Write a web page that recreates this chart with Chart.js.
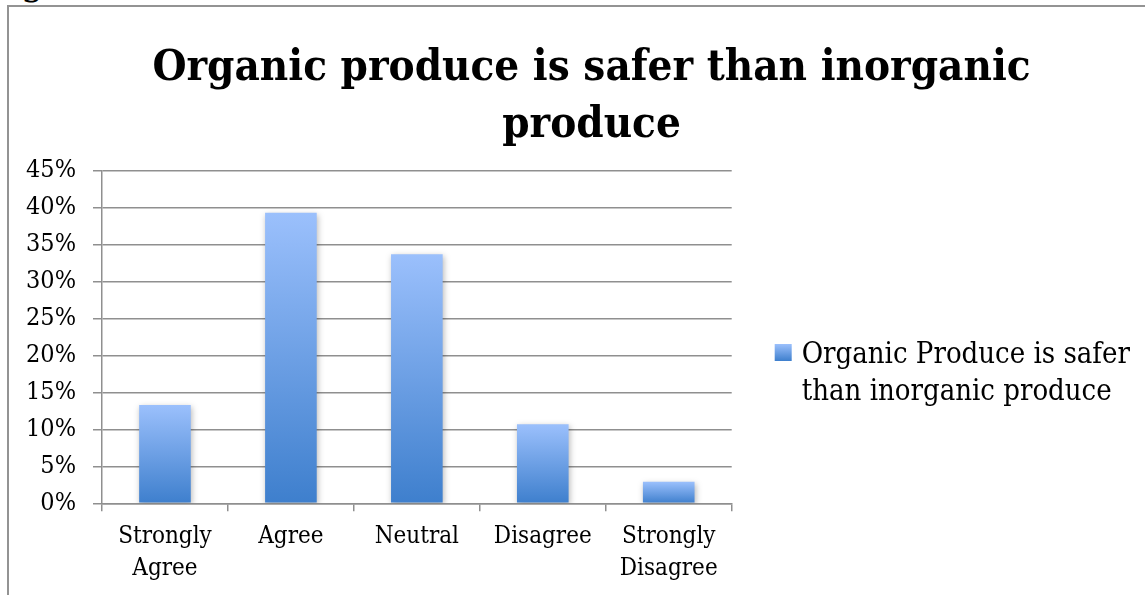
<!DOCTYPE html>
<html>
<head>
<meta charset="utf-8">
<script src="https://cdn.jsdelivr.net/npm/chart.js@4.4.1/dist/chart.umd.min.js"></script>
<style>
  html, body { margin: 0; padding: 0; background: #fff; overflow: hidden; }
  #wrap { position: relative; width: 1145px; height: 595px; overflow: hidden; }
  #frame { position: absolute; left: 7px; top: 5px; width: 1200px; height: 700px;
           border: 2px solid #939393; box-sizing: border-box; }
  #cut { position: absolute; left: 21px; top: -35px; font: 36px "DejaVu Serif"; line-height: 36px; }
  canvas { position: absolute; left: 0; top: 0; }
</style>
</head>
<body>
<div id="wrap">
  <div id="cut">g</div>
  <div id="frame"></div>
  <canvas id="chart" width="1145" height="595"></canvas>
</div>
<script>
// Survey answers, share of respondents (%)
const categories = [["Strongly", "Agree"], "Agree", "Neutral", "Disagree", ["Strongly", "Disagree"]];
const shareValues = [13.3, 39.3, 33.7, 10.7, 2.9];
const yTicks = [0, 5, 10, 15, 20, 25, 30, 35, 40, 45];
const titleLines = ["Organic produce is safer than inorganic", "produce"];
const legendLines = ["Organic Produce is safer", "than inorganic produce"];

const FONT = '"DejaVu Serif Condensed", "DejaVu Serif", serif';
const GRID = "#8f8f8f";
const TOP_BLUE = "#9bc0fc";
const BASE_BLUE = "#3e7fcd";

// each bar gets its own vertical gradient, light at the top
function barGradient(context) {
  const chart = context.chart;
  const y = chart.scales.y;
  if (!chart.chartArea || !y) return BASE_BLUE;
  const top = y.getPixelForValue(context.raw);
  const base = y.getPixelForValue(0);
  const g = chart.ctx.createLinearGradient(0, top, 0, base);
  g.addColorStop(0, TOP_BLUE);
  g.addColorStop(1, BASE_BLUE);
  return g;
}

const barShadow = {
  id: "barShadow",
  beforeDatasetsDraw(chart) {
    const ctx = chart.ctx;
    ctx.save();
    ctx.shadowColor = "rgba(0,0,0,0.28)";
    ctx.shadowBlur = 6;
    ctx.shadowOffsetX = 1;
    ctx.shadowOffsetY = 2;
  },
  afterDatasetsDraw(chart) {
    chart.ctx.restore();
  }
};

// big bold heading, centred on the framed area rather than the canvas
const heading = {
  id: "heading",
  afterDraw(chart) {
    const ctx = chart.ctx;
    ctx.save();
    ctx.fillStyle = "#000";
    ctx.font = "bold 43.5px " + FONT;
    ctx.textAlign = "center";
    ctx.textBaseline = "middle";
    titleLines.forEach((line, i) => {
      ctx.fillText(line, 591.5, 68.5 + i * 57);
    });
    ctx.restore();
  }
};

// two-line legend to the right of the plot
const sideLegend = {
  id: "sideLegend",
  afterDraw(chart) {
    const { ctx, chartArea } = chart;
    const boxX = chartArea.right + 43;
    const boxY = 344;
    const size = 17;
    ctx.save();
    const g = ctx.createLinearGradient(0, boxY, 0, boxY + size);
    g.addColorStop(0, TOP_BLUE);
    g.addColorStop(1, BASE_BLUE);
    ctx.fillStyle = g;
    ctx.fillRect(boxX, boxY, size, size);
    ctx.fillStyle = "#000";
    ctx.font = "29px " + FONT;
    ctx.textBaseline = "alphabetic";
    ctx.textAlign = "left";
    legendLines.forEach((line, i) => {
      ctx.fillText(line, boxX + 27, 363 + i * 37);
    });
    ctx.restore();
  }
};

new Chart(document.getElementById("chart").getContext("2d"), {
  type: "bar",
  data: {
    labels: categories,
    datasets: [{
      label: legendLines.join(" "),
      data: shareValues,
      backgroundColor: barGradient,
      borderWidth: 0,
      categoryPercentage: 1,
      barPercentage: 0.41
    }]
  },
  options: {
    responsive: false,
    animation: false,
    devicePixelRatio: 1,
    layout: { padding: { left: 0, right: 413.3, top: 170.7, bottom: 0 } },
    scales: {
      y: {
        min: 0,
        max: 45,
        afterBuildTicks: scale => { scale.ticks = yTicks.map(v => ({ value: v })); },
        afterFit: scale => { scale.width = 102; },
        grid: { color: GRID, lineWidth: 1.5, tickLength: 9 },
        border: { display: true, color: GRID, width: 1.5 },
        ticks: {
          padding: 17,
          color: "#000",
          font: { size: 25, family: FONT },
          callback: v => v + "%"
        }
      },
      x: {
        afterFit: scale => { scale.height = 91.7; },
        grid: { drawOnChartArea: false, offset: true, color: GRID, lineWidth: 1.5, tickLength: 8 },
        border: { display: true, color: GRID, width: 1.5 },
        ticks: {
          padding: 10,
          color: "#000",
          maxRotation: 0,
          font: { size: 24, family: FONT, lineHeight: 1.33 }
        }
      }
    },
    plugins: {
      legend: { display: false },
      tooltip: { enabled: false },
      title: { display: false }
    }
  },
  plugins: [barShadow, heading, sideLegend]
});
</script>
</body>
</html>
